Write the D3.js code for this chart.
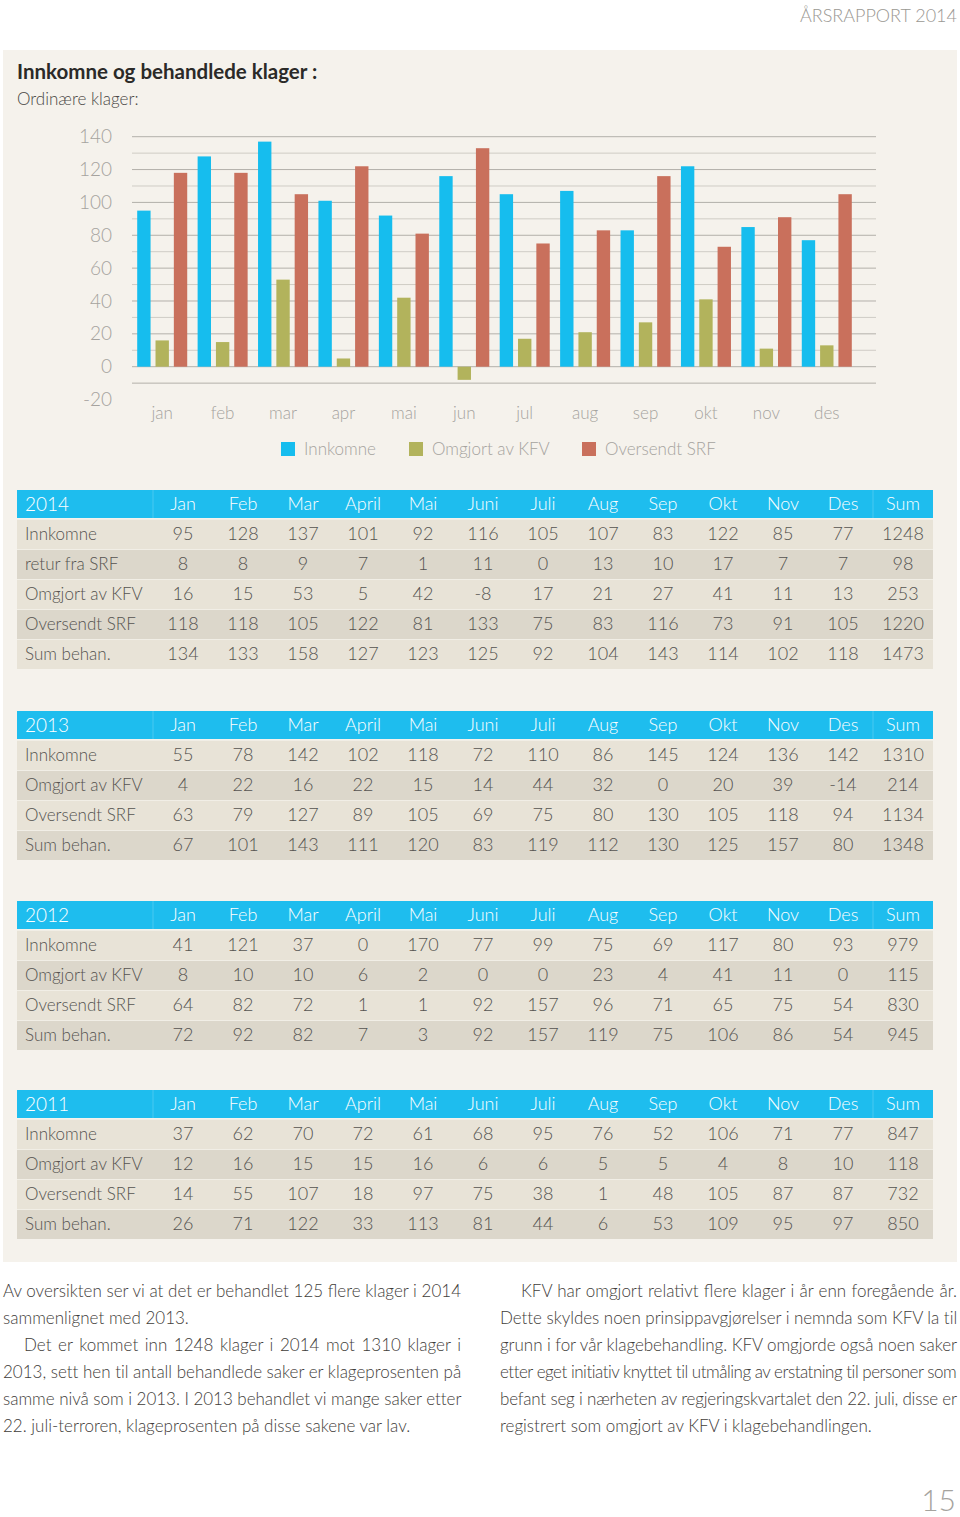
<!DOCTYPE html>
<html><head><meta charset="utf-8">
<script src="https://cdn.jsdelivr.net/npm/d3@7"></script>
<style>
html,body{margin:0;padding:0;background:#fff;}
svg{display:block;}
text{font-family:Lato,"Open Sans",sans-serif;}
</style></head>
<body>
<svg id="c" width="960" height="1517"></svg>
<script>
// ---------- DATA ----------
const chartMonths = ["jan","feb","mar","apr","mai","jun","jul","aug","sep","okt","nov","des"];
const seriesNames = ["Innkomne","Omgjort av KFV","Oversendt SRF"];
const seriesColors = ["#16bdee","#b2b35c","#c9705c"];
const yTicks = [-20,0,20,40,60,80,100,120,140];

const tableCols = ["Jan","Feb","Mar","April","Mai","Juni","Juli","Aug","Sep","Okt","Nov","Des","Sum"];

// 2014 (last value = Sum)
const innkomne2014  = [95,128,137,101,92,116,105,107,83,122,85,77,1248];
const retur2014     = [8,8,9,7,1,11,0,13,10,17,7,7,98];
const omgjort2014   = [16,15,53,5,42,-8,17,21,27,41,11,13,253];
const oversendt2014 = [118,118,105,122,81,133,75,83,116,73,91,105,1220];
const sum2014       = [134,133,158,127,123,125,92,104,143,114,102,118,1473];
// 2013
const innkomne2013  = [55,78,142,102,118,72,110,86,145,124,136,142,1310];
const omgjort2013   = [4,22,16,22,15,14,44,32,0,20,39,-14,214];
const oversendt2013 = [63,79,127,89,105,69,75,80,130,105,118,94,1134];
const sum2013       = [67,101,143,111,120,83,119,112,130,125,157,80,1348];
// 2012
const innkomne2012  = [41,121,37,0,170,77,99,75,69,117,80,93,979];
const omgjort2012   = [8,10,10,6,2,0,0,23,4,41,11,0,115];
const oversendt2012 = [64,82,72,1,1,92,157,96,71,65,75,54,830];
const sum2012       = [72,92,82,7,3,92,157,119,75,106,86,54,945];
// 2011
const innkomne2011  = [37,62,70,72,61,68,95,76,52,106,71,77,847];
const omgjort2011   = [12,16,15,15,16,6,6,5,5,4,8,10,118];
const oversendt2011 = [14,55,107,18,97,75,38,1,48,105,87,87,732];
const sum2011       = [26,71,122,33,113,81,44,6,53,109,95,97,850];

const leftPara = [
  ["Av oversikten ser vi at det er behandlet 125 flere klager i 2014", "sammenlignet med 2013."],
  ["Det er kommet inn 1248 klager i 2014 mot 1310 klager i", "2013, sett hen til antall behandlede saker er klageprosenten på", "samme nivå som i 2013. I 2013 behandlet vi mange saker etter", "22. juli-terroren, klageprosenten på disse sakene var lav."]
];
const rightPara = [
  ["KFV har omgjort relativt flere klager i år enn foregående år.", "Dette skyldes noen prinsippavgjørelser i nemnda som KFV la til", "grunn i for vår klagebehandling. KFV omgjorde også noen saker", "etter eget initiativ knyttet til utmåling av erstatning til personer som", "befant seg i nærheten av regjeringskvartalet den 22. juli, disse er", "registrert som omgjort av KFV i klagebehandlingen."]
];

// ---------- DRAW ----------
const svg = d3.select("#c");
const LIGHT = 300;

// page header
svg.append("text").attr("x",957).attr("y",22).attr("text-anchor","end")
  .attr("font-size",18).attr("font-weight",LIGHT).attr("fill","#9a9893").text("ÅRSRAPPORT 2014");

// beige panel
svg.append("rect").attr("x",3).attr("y",50).attr("width",954).attr("height",1212).attr("fill","#f5f2ec");

svg.append("text").attr("x",17).attr("y",79).attr("font-size",20.5).attr("font-weight",700)
  .attr("fill","#2b2a28").text("Innkomne og behandlede klager :");
svg.append("text").attr("x",17).attr("y",105).attr("font-size",17).attr("font-weight",LIGHT)
  .attr("fill","#4a4845").text("Ordinære klager:");

// chart
const y = d3.scaleLinear().domain([0,140]).range([366.7,136.7]);
const gridL = 132, gridR = 876;
const x0 = d3.scaleBand().domain(chartMonths).range([132,857]);
const x1 = d3.scaleBand().domain(seriesNames).range([5.2, x0.bandwidth()-5.2]).paddingInner(0.27);

const grid = d3.range(-10,141,10);
svg.append("g").selectAll("line").data(grid).join("line")
  .attr("x1",gridL).attr("x2",gridR)
  .attr("y1",d=>y(d)).attr("y2",d=>y(d))
  .attr("stroke",d=>d%20===0||d===-10?"#b3b0aa":"#cfccc5").attr("stroke-width",1);

svg.append("g").selectAll("text").data(yTicks).join("text")
  .attr("x",112).attr("y",d=>y(d)).attr("dy","0.35em").attr("text-anchor","end")
  .attr("font-size",19).attr("font-weight",LIGHT).attr("fill","#a5a39e").text(d=>d);

const seriesData = [innkomne2014.slice(0,12), omgjort2014.slice(0,12), oversendt2014.slice(0,12)];
const groups = svg.append("g").selectAll("g").data(chartMonths).join("g")
  .attr("transform",d=>`translate(${x0(d)},0)`);
groups.selectAll("rect").data((m,i)=>seriesNames.map((s,k)=>({s,k,v:seriesData[k][i]}))).join("rect")
  .attr("x",d=>x1(d.s)).attr("width",x1.bandwidth())
  .attr("y",d=>y(Math.max(0,d.v))).attr("height",d=>Math.abs(y(d.v)-y(0)))
  .attr("fill",d=>seriesColors[d.k]);

svg.append("g").selectAll("text").data(chartMonths).join("text")
  .attr("x",d=>x0(d)+x0.bandwidth()/2).attr("y",413).attr("dy","0.35em").attr("text-anchor","middle")
  .attr("font-size",17).attr("font-weight",LIGHT).attr("fill","#a5a39e").text(d=>d);

// legend
const legendX = [281,409,582];
const lg = svg.append("g").selectAll("g").data(seriesNames).join("g")
  .attr("transform",(d,i)=>`translate(${legendX[i]},442)`);
lg.append("rect").attr("width",14).attr("height",14).attr("fill",(d,i)=>seriesColors[i]);
lg.append("text").attr("x",23).attr("y",7).attr("dy","0.35em").attr("font-size",17)
  .attr("font-weight",LIGHT).attr("fill","#a5a39e").text(d=>d);

// tables
function drawTable(year, rows, top){
  const g = svg.append("g");
  const L = 17, R = 933, colX = i => 183 + 60*i;
  g.append("rect").attr("x",L).attr("y",top).attr("width",R-L).attr("height",28).attr("fill","#1ebdee");
  [153,873].forEach(xx=>g.append("line").attr("x1",xx).attr("x2",xx).attr("y1",top).attr("y2",top+28)
      .attr("stroke","#49c9f1").attr("stroke-width",1));
  g.append("text").attr("x",25).attr("y",top+14).attr("dy","0.35em").attr("font-size",19)
    .attr("font-weight",LIGHT).attr("fill","#ffffff").text(year);
  g.selectAll("text.h").data(tableCols).join("text").attr("class","h")
    .attr("x",(d,i)=>colX(i)).attr("y",top+14).attr("dy","0.35em").attr("text-anchor","middle")
    .attr("font-size",18).attr("font-weight",LIGHT).attr("fill","#ffffff").text(d=>d);
  rows.forEach((r,ri)=>{
    const ry = top + 29 + ri*30;
    g.append("rect").attr("x",L).attr("y",ry).attr("width",R-L).attr("height",30)
      .attr("fill", ri%2===0 ? "#e8e3d7" : "#dcd7cb");
    g.append("line").attr("x1",L).attr("x2",R).attr("y1",ry+0.5).attr("y2",ry+0.5)
      .attr("stroke","#f1eee6").attr("stroke-width",1);
    g.append("text").attr("x",25).attr("y",ry+15).attr("dy","0.35em").attr("font-size",17)
      .attr("font-weight",LIGHT).attr("fill","#555350").text(r.label);
    g.selectAll(null).data(r.values).join("text")
      .attr("x",(d,i)=>colX(i)).attr("y",ry+15).attr("dy","0.35em").attr("text-anchor","middle")
      .attr("font-size",18).attr("font-weight",LIGHT).attr("fill","#555350").text(d=>d);
  });
}
drawTable("2014",[
  {label:"Innkomne",values:innkomne2014},
  {label:"retur fra SRF",values:retur2014},
  {label:"Omgjort av KFV",values:omgjort2014},
  {label:"Oversendt SRF",values:oversendt2014},
  {label:"Sum behan.",values:sum2014}],490);
drawTable("2013",[
  {label:"Innkomne",values:innkomne2013},
  {label:"Omgjort av KFV",values:omgjort2013},
  {label:"Oversendt SRF",values:oversendt2013},
  {label:"Sum behan.",values:sum2013}],711);
drawTable("2012",[
  {label:"Innkomne",values:innkomne2012},
  {label:"Omgjort av KFV",values:omgjort2012},
  {label:"Oversendt SRF",values:oversendt2012},
  {label:"Sum behan.",values:sum2012}],901);
drawTable("2011",[
  {label:"Innkomne",values:innkomne2011},
  {label:"Omgjort av KFV",values:omgjort2011},
  {label:"Oversendt SRF",values:oversendt2011},
  {label:"Sum behan.",values:sum2011}],1090);

// body text, justified
function justify(el, t, xs, right){
  const w = el.node().getComputedTextLength();
  const spaces = (t.match(/ /g)||[]).length;
  const target = right - xs;
  if(spaces===0) return;
  let ws = (target - w)/spaces;
  if(ws < 0){
    // too long: tighten letters instead of collapsing the spaces
    const ls = (target - w) / (t.length-1);
    el.attr("letter-spacing", ls);
  } else {
    el.attr("word-spacing", ws);
  }
}
function drawParas(paras, left, right, firstBase, indentFirstPara){
  let line = 0;
  paras.forEach((p,pi)=>{
    p.forEach((t,li)=>{
      const indent = (li===0 && (pi>0 || indentFirstPara)) ? 21 : 0;
      const xs = left + indent;
      const base = firstBase + line*27;
      const el = svg.append("text").attr("x",xs).attr("y",base).attr("font-size",17)
        .attr("font-weight",LIGHT).attr("fill","#3f3d3a").text(t);
      if(li!==p.length-1) justify(el, t, xs, right);
      line++;
    });
  });
}
drawParas(leftPara, 3, 461, 1297, false);
drawParas(rightPara, 500, 957, 1297, true);

// page number
svg.append("text").attr("x",956).attr("y",1511).attr("text-anchor","end").attr("font-size",30)
  .attr("font-weight",LIGHT).attr("fill","#a5a39e").text("15");
</script>
</body></html>
